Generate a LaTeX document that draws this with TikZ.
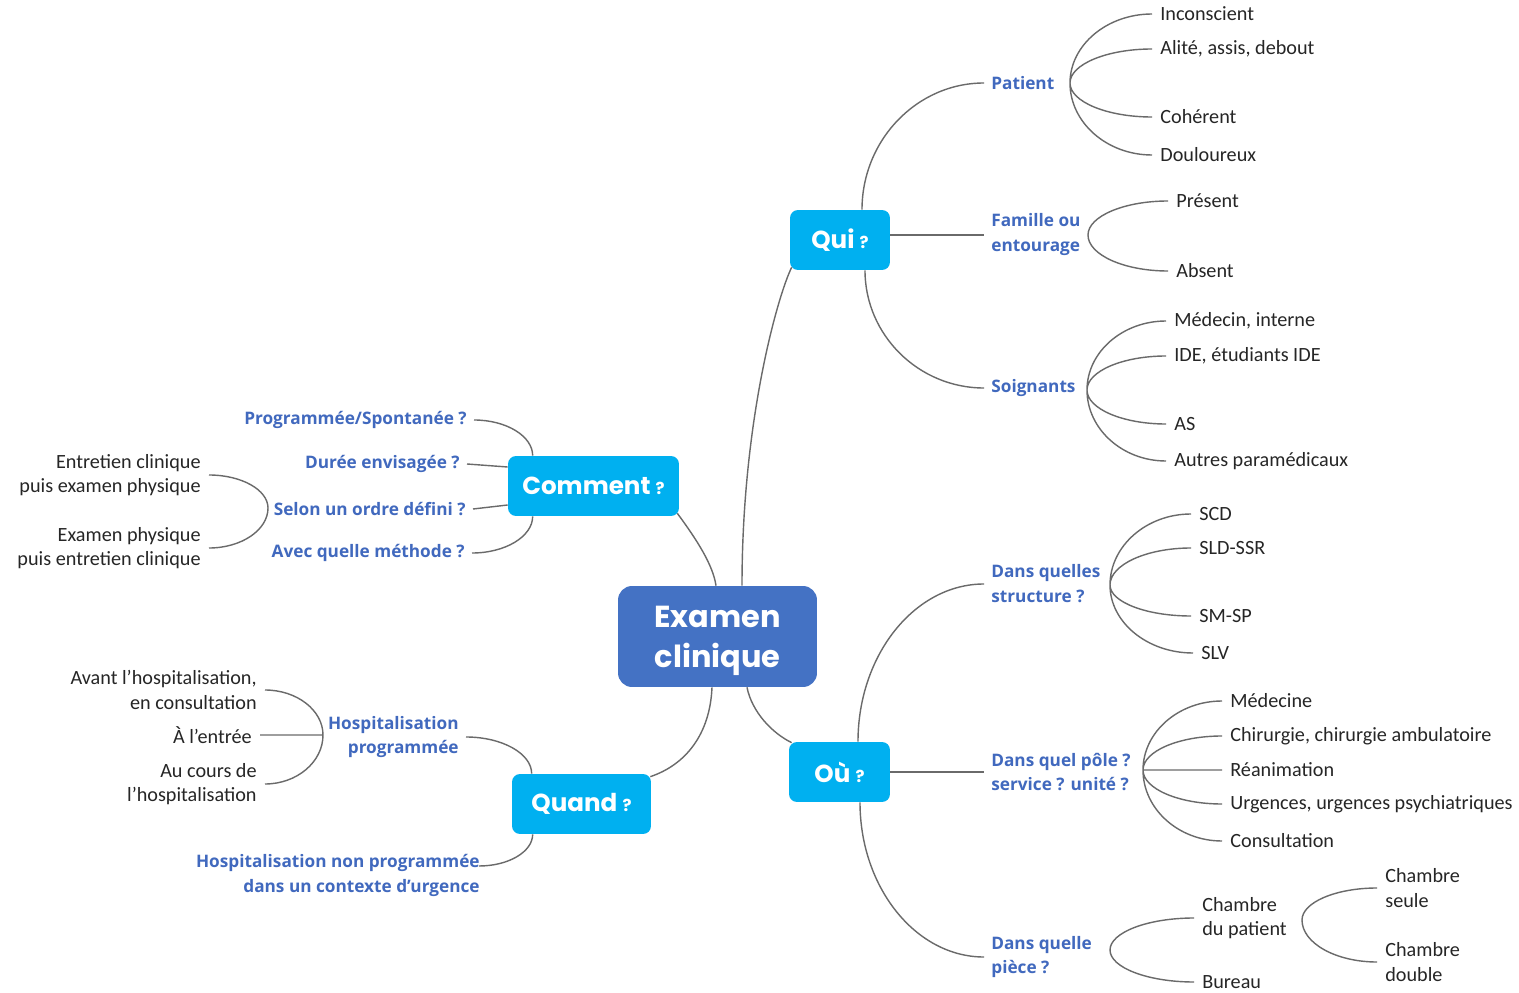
\documentclass[tikz,border=0pt]{standalone}
\usepackage{fontspec}
\setmainfont{Carlito}
\newfontfamily\labfont{Open Sans}
\newfontfamily\boxfont{Poppins}
\usetikzlibrary{calc}
\definecolor{cblue}{HTML}{4472C4}
\definecolor{cyanbox}{HTML}{00B0F0}
\definecolor{lblue}{HTML}{4169BE}
\definecolor{lgray}{HTML}{6A6A6A}
\tikzset{
  item/.style={font=\fontsize{11.5}{14}\selectfont, text=black!85, inner ysep=0pt, inner xsep=0.16cm},
  itemR/.style={item, anchor=west, align=left},
  itemL/.style={item, anchor=east, align=right},
  lab/.style={font=\labfont\bfseries\fontsize{9.8}{14.2}\selectfont, text=lblue, inner ysep=0pt, inner xsep=0.14cm},
  labR/.style={lab, anchor=west, align=left},
  labL/.style={lab, anchor=east, align=right},
  qbox/.style={fill=cyanbox, rounded corners=0.16cm, text=white, font=\boxfont\bfseries\fontsize{14}{16}\selectfont, minimum height=1.2cm, inner sep=0pt},
  cbox/.style={fill=cblue, rounded corners=0.28cm, minimum width=3.98cm, minimum height=2.02cm, inner sep=0pt},
  ctext/.style={text=white, align=center, font=\boxfont\bfseries\fontsize{17.3}{22.7}\selectfont, inner sep=0pt},
  link/.style={draw=lgray, line width=0.8pt},
  fan/.style={to path={.. controls ($(\tikztostart)!0.55!(\tikztostart|-\tikztotarget)$) and ($(\tikztotarget)!0.55!(\tikztostart|-\tikztotarget)$) .. (\tikztotarget) \tikztonodes}},
}
\newcommand{\qm}{{\fontsize{9.5}{9.5}\selectfont ?}}
\begin{document}
\begin{tikzpicture}[x=0.02cm, y=-0.02cm]
\path[use as bounding box, fill=white] (0,0) rectangle (1519,993);

% main boxes
\node[cbox] (cen) at (717.5,636.5) {};
\node[ctext] (centxt) at ($(cen.center)+(0,4.5)$) {Examen\\clinique};
\node[qbox, minimum width=2cm] (qui) at (840,240) {Qui \qm};
\node[qbox, minimum width=3.42cm] (com) at (593.5,486) {Comment \qm};
\node[qbox, minimum width=2.78cm] (qd) at (581.5,804) {Quand \qm};
\node[qbox, minimum width=2.02cm] (ou) at (839.5,772) {Où \qm};

% blue labels
\node[labR] (patient) at (984,83) {Patient};
\node[labR] (famille) at (984,235) {Famille ou\\entourage};
\node[labR] (soign) at (984,388) {Soignants};
\node[labR] (struct) at (984,584) {Dans quelles\\structure ?};
\node[labR] (pole) at (984,772) {Dans quel pôle ?\\service ? unité ?};
\node[labR] (piece) at (984,957) {Dans quelle\\pièce ?};
\node[labL] (prog) at (474,420) {Programmée/Spontanée ?};
\node[labL] (duree) at (467,464) {Durée envisagée ?};
\node[labL] (selon) at (473,509) {Selon un ordre défini ?};
\node[labL] (avec) at (472,553) {Avec quelle méthode ?};
\node[labL] (hosp) at (466,737) {Hospitalisation\\programmée};
\node[labL] (nonprog) at (487,875) {Hospitalisation non programmée\\dans un contexte d’urgence};

% right items
\node[itemR] (inc) at (1152,14) {Inconscient};
\node[itemR] (ali) at (1152,49) {Alité, assis, debout};
\node[itemR] (coh) at (1152,117) {Cohérent};
\node[itemR] (dou) at (1152,155) {Douloureux};
\node[itemR] (pre) at (1168,201) {Présent};
\node[itemR] (abse) at (1168,271) {Absent};
\node[itemR] (medi) at (1166,321) {Médecin, interne};
\node[itemR] (ide) at (1166,356) {IDE, étudiants IDE};
\node[itemR] (asx) at (1166,424) {AS};
\node[itemR] (aut) at (1166,461) {Autres paramédicaux};
\node[itemR] (scd) at (1191,514) {SCD};
\node[itemR] (sld) at (1191,548) {SLD-SSR};
\node[itemR] (smsp) at (1191,616) {SM-SP};
\node[itemR] (slv) at (1193,653) {SLV};
\node[itemR] (mede) at (1222,701) {Médecine};
\node[itemR] (chir) at (1222,736) {Chirurgie, chirurgie ambulatoire};
\node[itemR] (rea) at (1222,770) {Réanimation};
\node[itemR] (urg) at (1222,804) {Urgences, urgences psychiatriques};
\node[itemR] (cons) at (1222,841) {Consultation};
\node[itemR] (chp) at (1194,918) {Chambre\\du patient};
\node[itemR] (bur) at (1194,982) {Bureau};
\node[itemR] (chs) at (1377,888) {Chambre\\seule};
\node[itemR] (chd) at (1377,962) {Chambre\\double};

% left items
\node[itemL] (ent) at (209,475) {Entretien clinique\\puis examen physique};
\node[itemL] (exa) at (209,548) {Examen physique\\puis entretien clinique};
\node[itemL] (avant) at (265,690) {Avant l’hospitalisation,\\en consultation};
\node[itemL] (entree) at (260,735) {À l’entrée};
\node[itemL] (cours) at (265,784) {Au cours de\\l’hospitalisation};

% anchor coordinates on boxes
\coordinate (cQ) at ($(cen.north)+(24.5,0)$);
\coordinate (cC) at ($(cen.north)+(-1.5,0)$);
\coordinate (cQd) at ($(cen.south)+(-5.5,0)$);
\coordinate (cO) at ($(cen.south)+(29.5,0)$);
\coordinate (quiBL) at ($(qui.south west)+(2,-3)$);
\coordinate (quiN) at ($(qui.north)+(22,0)$);
\coordinate (quiS) at ($(qui.south)+(25,0)$);
\coordinate (comBR) at ($(com.south east)+(-2,-3)$);
\coordinate (comTL) at ($(com.north west)+(25,0)$);
\coordinate (comBL) at ($(com.south west)+(25,0)$);
\coordinate (comL1) at ($(com.west)+(0,-19)$);
\coordinate (comL2) at ($(com.west)+(0,19)$);
\coordinate (quTL) at ($(qd.north west)+(20,0)$);
\coordinate (quBL) at ($(qd.south west)+(21,0)$);
\coordinate (quTR) at ($(qd.north east)+(-1,3)$);
\coordinate (ouTL) at ($(ou.north west)+(3,1)$);
\coordinate (ouN) at ($(ou.north)+(18.5,0)$);
\coordinate (ouS) at ($(ou.south)+(20.5,0)$);
\coordinate (npE) at ($(nonprog.east)+(-8,-9)$);

% junctions
\coordinate (jPat) at (1070,83);
\coordinate (jFam) at (1088,235);
\coordinate (jSoi) at (1087,390);
\coordinate (jStr) at (1110,585);
\coordinate (jPole) at (1143,770);
\coordinate (jPie) at (1110,950);
\coordinate (jCh) at (1302,920);
\coordinate (jSel) at (268,508);
\coordinate (jHosp) at (323,735);

% central links
\draw[link] (cQ) .. controls (742,420) and (778,295) .. (quiBL);
\draw[link] (comBR) .. controls (697,540) and (713,565) .. (cC);
\draw[link] (cQd) .. controls (710,735) and (685,765) .. (quTR);
\draw[link] (cO) .. controls (752,712) and (772,733) .. (ouTL);

% Qui
\draw[link] (quiN) to[fan] (patient.west);
\draw[link] (qui.east|-famille.west) -- (famille.west);
\draw[link] (quiS) to[fan] (soign.west);
\draw[link] (jPat) to[fan] (inc.west) (jPat) to[fan] (ali.west)
  (jPat) to[fan] (coh.west) (jPat) to[fan] (dou.west);
\draw[link] (jFam) to[fan] (pre.west) (jFam) to[fan] (abse.west);
\draw[link] (jSoi) to[fan] (medi.west) (jSoi) to[fan] (ide.west)
  (jSoi) to[fan] (asx.west) (jSoi) to[fan] (aut.west);

% Ou
\draw[link] (ouN) to[fan] (struct.west);
\draw[link] (ou.east|-pole.west) -- (pole.west);
\draw[link] (ouS) to[fan] (piece.west);
\draw[link] (jStr) to[fan] (scd.west) (jStr) to[fan] (sld.west)
  (jStr) to[fan] (smsp.west) (jStr) to[fan] (slv.west);
\draw[link] (jPole) to[fan] (mede.west) (jPole) to[fan] (chir.west)
  (jPole) -- (rea.west) (jPole) to[fan] (urg.west) (jPole) to[fan] (cons.west);
\draw[link] (jPie) to[fan] (chp.west) (jPie) to[fan] (bur.west);
\draw[link] (jCh) to[fan] (chs.west) (jCh) to[fan] (chd.west);

% Comment
\draw[link] (comTL) to[fan] (prog.east);
\draw[link] (duree.east) -- (comL1);
\draw[link] (selon.east) -- (comL2);
\draw[link] (comBL) to[fan] (avec.east);
\draw[link] (jSel) to[fan] (ent.east) (jSel) to[fan] (exa.east);

% Quand
\draw[link] (quTL) to[fan] (hosp.east);
\draw[link] (quBL) to[fan] (npE);
\draw[link] (jHosp) to[fan] (avant.east) (jHosp) -- (entree.east) (jHosp) to[fan] (cours.east);
\end{tikzpicture}
\end{document}
